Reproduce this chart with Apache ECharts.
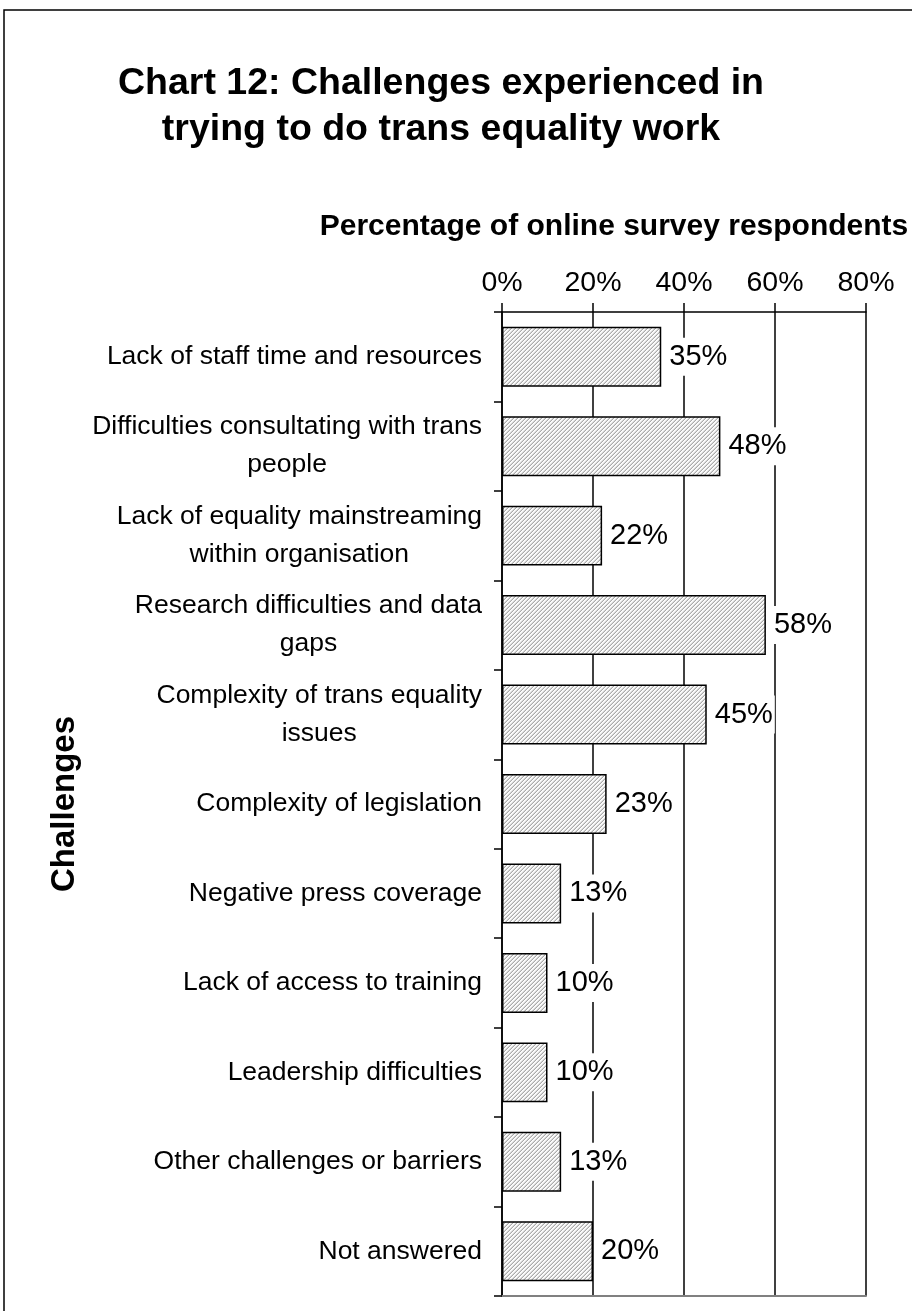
<!DOCTYPE html>
<html>
<head>
<meta charset="utf-8">
<title>Chart 12: Challenges experienced in trying to do trans equality work</title>
<script src="https://cdn.jsdelivr.net/npm/echarts@6/dist/echarts.min.js"></script>
<style>
  html, body { margin: 0; padding: 0; background: #fff; }
  #chart { width: 912px; height: 1311px; }
</style>
</head>
<body>
<div id="chart"></div>
<script>
// Survey categories, top to bottom
const challenges = [
  'Lack of staff time and resources',
  'Difficulties consultating with trans\npeople',
  'Lack of equality mainstreaming\nwithin organisation',
  'Research difficulties and data\ngaps',
  'Complexity of trans equality\nissues',
  'Complexity of legislation',
  'Negative press coverage',
  'Lack of access to training',
  'Leadership difficulties',
  'Other challenges or barriers',
  'Not answered'
];

// Percentage of online survey respondents citing each challenge
const percentages = [35, 48, 22, 58, 45, 23, 13, 10, 10, 13, 20];

// Percentage axis ticks
const axisMin = 0;
const axisMax = 80;
const axisStep = 20;

const FONT = '"Liberation Sans", Arial, Helvetica, sans-serif';

// Diagonal "/" hatch used as the bar fill
function hatchTile() {
  const size = 4;
  const c = document.createElement('canvas');
  c.width = size; c.height = size;
  const ctx = c.getContext('2d');
  const shades = ['#ffffff', '#f7f7f7', '#d6d6d6', '#ababab'];
  for (let x = 0; x < size; x++) {
    for (let y = 0; y < size; y++) {
      ctx.fillStyle = shades[(x + y) % size];
      ctx.fillRect(x, y, 1, 1);
    }
  }
  return c;
}

// Wrapped category labels: second line centred beneath the first
function categoryLabel(value) {
  const parts = value.split('\n');
  if (parts.length === 1) return '{a|' + value + '}';
  return parts.map(function (p) { return '{c|' + p + '}'; }).join('\n');
}

const chart = echarts.init(document.getElementById('chart'), null, { renderer: 'canvas' });

chart.setOption({
  backgroundColor: '#ffffff',
  animation: false,
  title: {
    text: 'Chart 12: Challenges experienced in\ntrying to do trans equality work',
    left: 436,
    top: 56,
    textAlign: 'center',
    textStyle: {
      fontFamily: FONT,
      fontWeight: 'bold',
      fontSize: 37.5,
      lineHeight: 46,
      color: '#000'
    }
  },
  graphic: [{
    type: 'rect',
    silent: true,
    shape: { x: 4, y: 10, width: 1000, height: 1400 },
    style: { fill: 'none', stroke: '#000', lineWidth: 1.5 }
  }],
  grid: { left: 502, right: 46, top: 312, bottom: 15, containLabel: false },
  xAxis: [{
    type: 'value',
    position: 'top',
    min: axisMin,
    max: axisMax,
    interval: axisStep,
    name: 'Percentage of online survey respondents',
    nameLocation: 'middle',
    nameGap: 70,
    nameTextStyle: {
      fontFamily: FONT,
      fontWeight: 'bold',
      fontSize: 30,
      color: '#000',
      padding: [0, 140, 0, 0]
    },
    axisLine: { show: true, lineStyle: { color: '#000', width: 1.5 } },
    axisTick: { show: true, length: 9, lineStyle: { color: '#000', width: 1.5 } },
    axisLabel: {
      formatter: '{value}%',
      fontFamily: FONT,
      fontSize: 28.5,
      color: '#000',
      margin: 14
    },
    splitLine: { show: true, lineStyle: { color: '#000', width: 1.5 } }
  }, {
    type: 'value',
    position: 'bottom',
    min: axisMin,
    max: axisMax,
    interval: axisStep,
    axisLine: { show: true, lineStyle: { color: '#808080', width: 2 } },
    axisTick: { show: false },
    axisLabel: { show: false },
    splitLine: { show: false }
  }],
  yAxis: {
    type: 'category',
    inverse: true,
    data: challenges,
    name: 'Challenges',
    nameLocation: 'middle',
    nameRotate: 90,
    nameGap: 421,
    nameTextStyle: {
      fontFamily: FONT,
      fontWeight: 'bold',
      fontSize: 33,
      color: '#000'
    },
    axisLine: { show: true, lineStyle: { color: '#000', width: 1.5 } },
    axisTick: { show: true, length: 8, alignWithLabel: false, lineStyle: { color: '#000', width: 1.5 } },
    axisLabel: {
      fontFamily: FONT,
      fontSize: 26.5,
      color: '#000',
      margin: 20,
      lineHeight: 38,
      formatter: categoryLabel,
      rich: {
        a: { fontFamily: FONT, fontSize: 26.5, color: '#000', lineHeight: 38 },
        c: { fontFamily: FONT, fontSize: 26.5, color: '#000', lineHeight: 38, align: 'center' }
      }
    },
    splitLine: { show: false }
  },
  series: [{
    type: 'bar',
    xAxisIndex: 0,
    data: percentages,
    barCategoryGap: '33%',
    itemStyle: {
      color: { image: hatchTile(), repeat: 'repeat' },
      borderColor: '#000',
      borderWidth: 1.5
    },
    label: {
      show: true,
      position: 'right',
      distance: 6,
      formatter: '{c}%',
      fontFamily: FONT,
      fontSize: 29,
      color: '#000',
      backgroundColor: '#ffffff',
      padding: [5, 2, 4, 2]
    }
  }]
});
</script>
</body>
</html>
